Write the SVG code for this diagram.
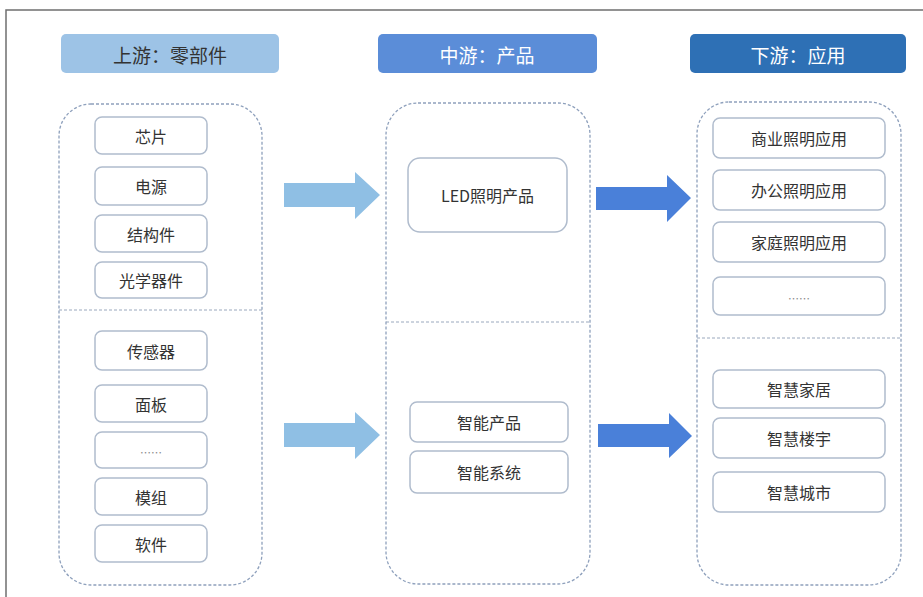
<svg xmlns="http://www.w3.org/2000/svg" width="923" height="597" viewBox="0 0 923 597">
<defs>
<style>
.frame{fill:none;stroke:#6f6f6f;stroke-width:1.5}
.cont{fill:#fff;stroke:#8ea0bc;stroke-width:1.3;stroke-dasharray:3 2}
.div{stroke:#9aa8bd;stroke-width:1;stroke-dasharray:3 2}
.box{fill:#fff;stroke:#b0bccd;stroke-width:1.5}
.lbl{font-family:"Noto Sans CJK SC","Noto Sans",sans-serif;font-size:16px;fill:#333;text-anchor:middle;dominant-baseline:central}
.hdr{font-family:"Noto Sans CJK SC","Noto Sans",sans-serif;font-size:19px;text-anchor:middle;dominant-baseline:central}
.dots{font-family:"Noto Sans CJK SC","Noto Sans",sans-serif;font-size:11px;fill:#888;text-anchor:middle;dominant-baseline:central}
.a1{fill:#8fbfe4}
.a2{fill:#4a80d9}
</style>
</defs>
<rect width="923" height="597" fill="#fff"/>
<path class="frame" d="M6,597 V10 H923"/>

<g id="hdr-up"><rect x="61" y="34" width="218" height="39" rx="5" fill="#9dc3e6"/><text class="hdr" x="170" y="54" fill="#333">上游：零部件</text></g>
<g id="hdr-mid"><rect x="378" y="34" width="219" height="39" rx="5" fill="#5b8dd8"/><text class="hdr" x="487" y="54" fill="#fff">中游：产品</text></g>
<g id="hdr-down"><rect x="690" y="34" width="216" height="39" rx="5" fill="#2e70b5"/><text class="hdr" x="798" y="54" fill="#fff">下游：应用</text></g>

<g id="col-up">
<rect class="cont" x="59" y="104" width="203" height="481" rx="32"/>
<line class="div" x1="59" y1="310" x2="262" y2="310"/>
</g>
<g id="col-mid">
<rect class="cont" x="386" y="103" width="204" height="481" rx="32"/>
<line class="div" x1="386" y1="322" x2="590" y2="322"/>
</g>
<g id="col-down">
<rect class="cont" x="697" y="102" width="204" height="483" rx="32"/>
<line class="div" x1="697" y1="338" x2="901" y2="338"/>
</g>

<g id="n-chip"><rect class="box" x="95" y="117" width="112" height="37" rx="7"/><text class="lbl" x="151" y="135.5">芯片</text></g>
<g id="n-power"><rect class="box" x="95" y="167" width="112" height="38" rx="7"/><text class="lbl" x="151" y="186">电源</text></g>
<g id="n-struct"><rect class="box" x="95" y="215" width="112" height="37" rx="7"/><text class="lbl" x="151" y="233.5">结构件</text></g>
<g id="n-optic"><rect class="box" x="95" y="262" width="112" height="36" rx="7"/><text class="lbl" x="151" y="280">光学器件</text></g>
<g id="n-sensor"><rect class="box" x="95" y="331" width="112" height="39" rx="7"/><text class="lbl" x="151" y="350.5">传感器</text></g>
<g id="n-panel"><rect class="box" x="95" y="385" width="112" height="37" rx="7"/><text class="lbl" x="151" y="403.5">面板</text></g>
<g id="n-etc1"><rect class="box" x="95" y="432" width="112" height="36" rx="7"/><text class="dots" x="151" y="452">……</text></g>
<g id="n-module"><rect class="box" x="95" y="478" width="112" height="37" rx="7"/><text class="lbl" x="151" y="496.5">模组</text></g>
<g id="n-soft"><rect class="box" x="95" y="525" width="112" height="37" rx="7"/><text class="lbl" x="151" y="543.5">软件</text></g>

<g id="n-led"><rect class="box" x="408" y="158" width="159" height="74" rx="12"/><text class="lbl" x="487.5" y="195">LED照明产品</text></g>
<g id="n-smartprod"><rect class="box" x="410" y="402" width="158" height="40" rx="7"/><text class="lbl" x="489" y="422">智能产品</text></g>
<g id="n-smartsys"><rect class="box" x="410" y="451" width="158" height="42" rx="7"/><text class="lbl" x="489" y="472">智能系统</text></g>

<g id="n-biz"><rect class="box" x="713" y="118" width="172" height="40" rx="7"/><text class="lbl" x="799" y="138">商业照明应用</text></g>
<g id="n-office"><rect class="box" x="713" y="170" width="172" height="40" rx="7"/><text class="lbl" x="799" y="190">办公照明应用</text></g>
<g id="n-home"><rect class="box" x="713" y="222" width="172" height="40" rx="7"/><text class="lbl" x="799" y="242">家庭照明应用</text></g>
<g id="n-etc2"><rect class="box" x="713" y="277" width="172" height="38" rx="7"/><text class="dots" x="799" y="298">……</text></g>
<g id="n-shome"><rect class="box" x="713" y="370" width="172" height="38" rx="7"/><text class="lbl" x="799" y="389">智慧家居</text></g>
<g id="n-sbuild"><rect class="box" x="713" y="418" width="172" height="40" rx="7"/><text class="lbl" x="799" y="438">智慧楼宇</text></g>
<g id="n-scity"><rect class="box" x="713" y="472" width="172" height="40" rx="7"/><text class="lbl" x="799" y="492">智慧城市</text></g>

<g id="connectors">
<polygon class="a1" points="284,183 355,183 355,172 380,195 355,219 355,207 284,207"/>
<polygon class="a1" points="284,423 355,423 355,412 380,435 355,459 355,447 284,447"/>
<polygon class="a2" points="596,187 667,187 667,175 691,198 667,222 667,210 596,210"/>
<polygon class="a2" points="598,424 669,424 669,413 692,436 669,458 669,447 598,447"/>
</g>
</svg>
